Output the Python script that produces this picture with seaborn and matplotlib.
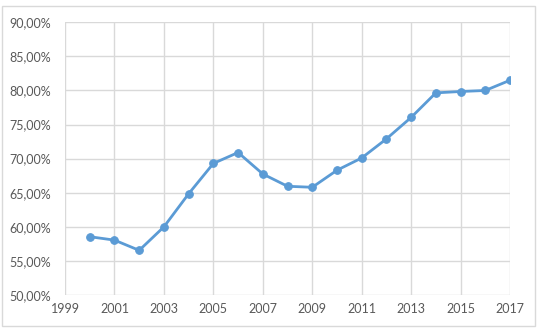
import numpy as np
import pandas as pd
import seaborn as sns
import matplotlib.pyplot as plt
from matplotlib.patches import Rectangle
from matplotlib.ticker import FuncFormatter

# datos
years = [2000, 2001, 2002, 2003, 2004, 2005, 2006, 2007, 2008,
         2009, 2010, 2011, 2012, 2013, 2014, 2015, 2016, 2017]
values = [58.55, 58.05, 56.55, 60.0, 64.85, 69.3, 70.9, 67.75, 65.95,
          65.8, 68.3, 70.1, 72.9, 76.05, 79.65, 79.85, 80.0, 81.5]
x_ticks = [1999, 2001, 2003, 2005, 2007, 2009, 2011, 2013, 2015, 2017]
y_ticks = [50, 55, 60, 65, 70, 75, 80, 85, 90]

df = pd.DataFrame({"year": years, "value": values})

sns.set_style("white")
plt.rcParams['font.family'] = ['Lato', 'DejaVu Sans']

fig = plt.figure(figsize=(5.42, 3.28), dpi=100)
ax = fig.add_axes([0.12, 0.1006, 0.821, 0.8314])

sns.lineplot(data=df, x="year", y="value", ax=ax, color="#5B9BD5",
             linewidth=2.0, marker="o", markersize=5.5,
             markeredgecolor="#5B9BD5", zorder=3)

ax.set_xlim(1999, 2017)
ax.set_ylim(50, 90)
ax.set_xticks(x_ticks)
ax.set_yticks(y_ticks)
ax.yaxis.set_major_formatter(FuncFormatter(lambda v, p: f"{v:.2f}%".replace(".", ",")))
ax.grid(True, color="#D9D9D9", linewidth=1.0)
ax.set_axisbelow(True)
for s in ax.spines.values():
    s.set_visible(False)
ax.tick_params(axis="both", length=0, labelsize=9, labelcolor="#595959")
ax.tick_params(axis="y", pad=10)
ax.tick_params(axis="x", pad=6)
ax.set_xlabel("")
ax.set_ylabel("")

# borde del gráfico estilo Excel
fig.patches.append(Rectangle((0.004, 0.006), 0.984, 0.976, transform=fig.transFigure,
                             fill=False, edgecolor="#D9D9D9", linewidth=1.0))

fig.savefig("out.png", dpi=100)
